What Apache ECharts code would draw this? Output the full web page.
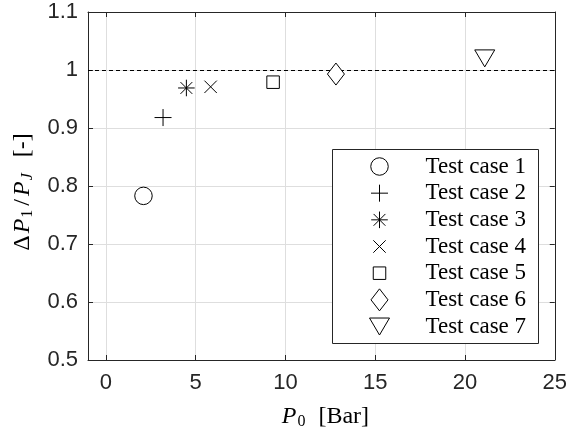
<!DOCTYPE html>
<html><head><meta charset="utf-8">
<script src="https://cdn.jsdelivr.net/npm/echarts@6/dist/echarts.min.js"></script>
<style>html,body{margin:0;padding:0;background:#fff}#c{width:570px;height:435px}</style>
</head><body><div id="c"></div>
<script>
// ---- data ----
const caseNames = ['Test case 1', 'Test case 2', 'Test case 3', 'Test case 4', 'Test case 5', 'Test case 6', 'Test case 7'];
const pressure = [2.09, 3.18, 4.48, 5.83, 9.31, 12.81, 21.1];
const ratio = [0.783, 0.918, 0.969, 0.971, 0.979, 0.993, 1.020];
const xTicks = [0, 5, 10, 15, 20, 25];
const xRange = [-1, 25];
const yRange = [0.5, 1.1];
const yStep = 0.1;
const referenceLevel = 1;

// ---- marker styles (22x22 boxes, anchored by the two leading moveTo points) ----
const B = 'path://M0,0M22,22';
const markerSymbols = [
  B + 'M19.75,11A8.75,8.75,0,1,1,2.25,11A8.75,8.75,0,1,1,19.75,11Z',
  B + 'M2.5,11L19.5,11M11,2.5L11,19.5',
  B + 'M2.7,11L19.3,11M11,2.7L11,19.3M5.1,5.1L16.9,16.9M5.1,16.9L16.9,5.1',
  B + 'M4.8,4.8L17.2,17.2M4.8,17.2L17.2,4.8',
  B + 'M4.75,4.75L17.25,4.75L17.25,17.25L4.75,17.25Z',
  B + 'M11,0L19.5,11L11,22L2.5,11Z',
  B + 'M1,2.5L21,2.5L11,19.5Z'
];

const axisColor = '#262626';
const gridColor = '#dedede';
const tickFont = { fontFamily: 'Liberation Sans', fontSize: 22, color: axisColor };

const series = caseNames.map((name, i) => ({
  name: name,
  type: 'scatter',
  xAxisIndex: 0, yAxisIndex: 0,
  data: [[pressure[i], ratio[i]]],
  symbol: markerSymbols[i],
  symbolSize: 22,
  itemStyle: { color: '#fff', borderColor: '#000', borderWidth: 1, opacity: 1 },
  emphasis: { disabled: true },
  z: 5
}));
series[0].markLine = {
  silent: true,
  symbol: ['none', 'none'],
  label: { show: false },
  lineStyle: { color: '#000', width: 1, type: [4, 3] },
  data: [{ yAxis: referenceLevel }],
  z: 3
};

const rich = {
  n: { fontFamily: 'Liberation Serif', fontSize: 24, color: '#000', lineHeight: 26, verticalAlign: 'middle' },
  sl: { fontFamily: 'Liberation Serif', fontSize: 24, color: '#000', lineHeight: 26, verticalAlign: 'middle', padding: [0, 3, 0, 3] },
  d: { fontFamily: 'Liberation Serif', fontSize: 24, color: '#000', lineHeight: 26, verticalAlign: 'middle', padding: [0, 2, 0, 0] },
  i: { fontFamily: 'Liberation Serif', fontStyle: 'italic', fontSize: 24, color: '#000', lineHeight: 26, verticalAlign: 'middle' },
  s: { fontFamily: 'Liberation Serif', fontSize: 16, color: '#000', lineHeight: 26, verticalAlign: 'bottom', padding: [0, 1, 0, 1] },
  si: { fontFamily: 'Liberation Serif', fontStyle: 'italic', fontSize: 16, color: '#000', lineHeight: 26, verticalAlign: 'bottom', padding: [0, 1, 0, 1] },
  g: { fontSize: 24, width: 12 },
  gy: { fontSize: 24, width: 15 }
};

const baseX = {
  type: 'value', min: xRange[0], max: xRange[1],
  axisLine: { show: true, onZero: false, lineStyle: { color: axisColor, width: 1 } },
  axisTick: { show: true, inside: true, length: 5, customValues: xTicks, lineStyle: { color: axisColor } }
};
const baseY = {
  type: 'value', min: yRange[0], max: yRange[1], interval: yStep,
  axisLine: { show: true, onZero: false, lineStyle: { color: axisColor, width: 1 } },
  axisTick: { show: true, inside: true, length: 5, lineStyle: { color: axisColor } }
};

// legend: one component per row so the rows are evenly spaced
const legendBox = { left: 332, top: 149, width: 206, height: 194 };
const rowPitch = 26.67;
const legends = caseNames.map((name, i) => ({
  orient: 'vertical',
  left: legendBox.left + 36,
  top: legendBox.top + 6 + i * rowPitch,
  padding: 0,
  itemWidth: 82, itemHeight: 22,
  textStyle: { fontFamily: 'Liberation Serif', fontSize: 23, color: '#000', lineHeight: 22 },
  itemStyle: { borderWidth: 1, borderColor: '#000' },
  selectedMode: false,
  data: [name],
  z: 10
}));

const option = {
  animation: false,
  backgroundColor: '#fff',
  grid: { left: 88, right: 13, top: 12, bottom: 75 },
  xAxis: [
    Object.assign({}, baseX, {
      position: 'bottom',
      axisLabel: Object.assign({ margin: 12, customValues: xTicks }, tickFont),
      splitLine: { show: true, lineStyle: { color: gridColor, width: 1 } },
      name: '{i|P}{s|0}{g|}{n|[Bar]}',
      nameLocation: 'middle', nameGap: 44,
      nameTextStyle: { rich: rich, padding: [0, 0, 0, 8] }
    }),
    Object.assign({}, baseX, {
      position: 'top',
      axisLabel: { show: false },
      splitLine: { show: false }
    })
  ],
  yAxis: [
    Object.assign({}, baseY, {
      position: 'left',
      axisLabel: Object.assign({ margin: 10 }, tickFont),
      splitLine: { show: true, lineStyle: { color: gridColor, width: 1 } },
      name: '{d|Δ}{i|P}{s|1}{sl|/}{i|P}{si|J}{gy|}{n|[-]}',
      nameLocation: 'middle', nameGap: 52, nameRotate: 90,
      nameTextStyle: { rich: rich, padding: [0, 12, 0, 0] }
    }),
    Object.assign({}, baseY, {
      position: 'right',
      axisLabel: { show: false },
      splitLine: { show: false }
    })
  ],
  graphic: [{
    type: 'rect', z: 9,
    left: legendBox.left, top: legendBox.top,
    shape: { width: legendBox.width, height: legendBox.height },
    style: { fill: '#fff', stroke: axisColor, lineWidth: 1 }
  }],
  legend: legends,
  series: series
};

const chart = echarts.init(document.getElementById('c'), null, { renderer: 'canvas' });
chart.setOption(option);
</script>
</body></html>
